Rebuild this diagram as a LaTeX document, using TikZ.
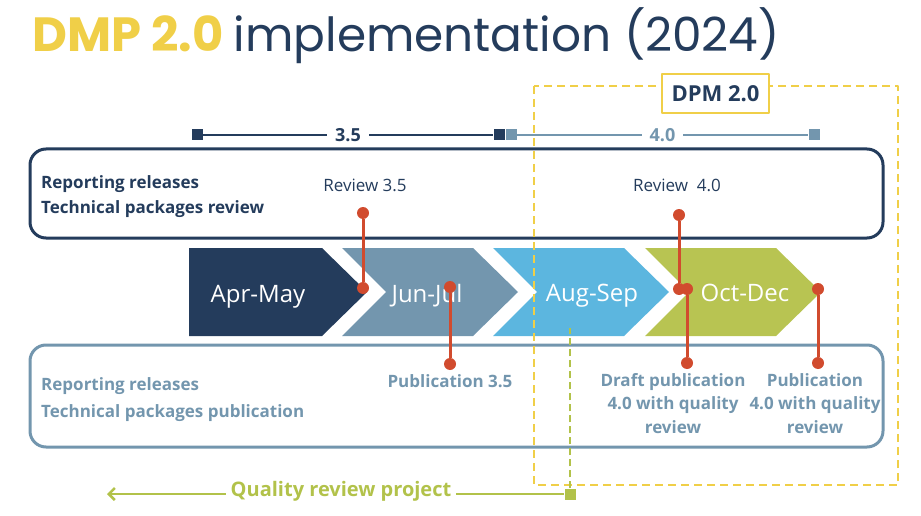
\documentclass[tikz,border=0pt]{standalone}
\usepackage{fontspec}
\setmainfont{Open Sans}
\newfontfamily\popfont{Poppins}
\usetikzlibrary{positioning,arrows.meta}
\definecolor{navy}{HTML}{243C5C}
\definecolor{steel}{HTML}{7396AE}
\definecolor{sky}{HTML}{5CB6DF}
\definecolor{olive}{HTML}{B8C452}
\definecolor{dpmyellow}{HTML}{F0CF48}
\definecolor{dotred}{HTML}{D14B2E}
\definecolor{qgreen}{HTML}{B2C24A}
\tikzset{
  dot/.style={circle,fill=dotred,inner sep=0pt,minimum size=12pt},
  redline/.style={draw=dotred,line width=3pt},
  sq/.style={inner sep=0pt,minimum size=11pt},
  month/.style={text=white,inner sep=0pt,anchor=base,font=\fontsize{24}{26}\selectfont},
  rowtxt/.style={inner sep=0pt,anchor=base west,align=left,font=\fontsize{17}{25}\selectfont\bfseries},
  revtxt/.style={inner sep=0pt,anchor=base,text=navy,font=\fontsize{17}{20}\selectfont},
  pubtxt/.style={inner sep=0pt,align=center,text=steel,font=\fontsize{17}{23.5}\selectfont\bfseries},
}
\begin{document}
\begin{tikzpicture}[x=1pt,y=-1pt,line join=round]
  \def\yt{248} \def\yb{336} \def\ym{292}
  \useasboundingbox (0,0) rectangle (921,516);
  % title
  \node[anchor=base west,inner sep=0pt] (title) at (32,52)
    {\popfont\bfseries\fontsize{48}{50}\selectfont\color{dpmyellow}DMP 2.0
     \mdseries\fontsize{47}{50}\selectfont\color{navy}implementation (2024)};
  % frames
  \draw[navy,line width=3pt,rounded corners=16pt] (30,149) rectangle (883,238);
  \draw[steel,line width=3pt,rounded corners=16pt] (30,345) rectangle (883,447);
  \node[rowtxt,text=navy] (revrow) at (41,213) {Reporting releases\\Technical packages review};
  \node[rowtxt,text=steel,font=\fontsize{17}{27}\selectfont\bfseries] (pubrow) at (41,417)
    {Reporting releases\\Technical packages publication};
  % chevrons
  \fill[navy] (189,\yt) -- (322,\yt) -- (367,\ym) -- (322,\yb) -- (189,\yb) -- cycle;
  \foreach \x/\c in {342/steel,493/sky,645/olive}
    \fill[\c] (\x,\yt) -- (\x+131,\yt) -- (\x+176,\ym) -- (\x+131,\yb) -- (\x,\yb) -- (\x+44,\ym) -- cycle;
  \node[month] (aprmay) at (258,302) {Apr-May};
  \node[month] (junjul) at (427,302) {Jun-Jul};
  \node[month] (augsep) at (592,301) {Aug-Sep};
  \node[month] (octdec) at (745,301) {Oct-Dec};
  % version timeline
  \node[sq,fill=navy] (v35a) at (197,135) {};
  \node[sq,fill=navy] (v35b) at (499,135) {};
  \node[sq,fill=steel] (v40a) at (511,135) {};
  \node[sq,fill=steel] (v40b) at (814,135) {};
  \draw[navy,line width=2pt] (v35a) -- node[fill=white,inner xsep=8pt,inner ysep=1pt,font=\fontsize{18}{20}\selectfont\bfseries]{3.5} (v35b);
  \draw[steel,line width=2pt] (v40a) -- node[fill=white,inner xsep=8pt,inner ysep=1pt,text=steel,font=\fontsize{18}{20}\selectfont\bfseries]{4.0} (v40b);
  % DPM 2.0 frame
  \draw[dpmyellow,line width=2.5pt,dash pattern=on 8pt off 5pt] (534,86) rectangle (898,485);
  \node[draw=dpmyellow,line width=2.5pt,fill=white,minimum width=107pt,minimum height=39pt,
    text=navy,font=\fontsize{22}{24}\selectfont\bfseries] (dpm) at (715.5,93.5) {DPM 2.0};
  % quality review project
  \node[sq,fill=qgreen] (qsq) at (570,494) {};
  \coordinate (qtop) at (570,328);
  \coordinate (qend) at (107,494);
  \draw[qgreen,line width=2.5pt,dash pattern=on 7pt off 4pt] (qsq) -- (qtop);
  \node[inner sep=5pt,anchor=mid,text=qgreen,font=\fontsize{20}{22}\selectfont\bfseries] (qrp) at (341,494) {Quality review project};
  \draw[qgreen,line width=2.5pt,-{Straight Barb[length=6pt,width=12pt]}] (qrp.mid west) -- (qend);
  \draw[qgreen,line width=2.5pt] (qrp.mid east) -- (qsq);
  % reviews and publications
  \node[revtxt] (rev35) at (365,191) {Review 3.5};
  \node[revtxt] (rev40) at (677,191) {Review\ \ 4.0};
  \node[dot] (r35a) at (363,213) {};
  \node[dot] (r35b) at (363,288) {};
  \node[dot] (p35a) at (450,287) {};
  \node[dot] (p35b) at (450,364) {};
  \node[dot] (r40a) at (679,215) {};
  \node[dot] (r40b) at (679,289) {};
  \node[dot] (d40a) at (687,289) {};
  \node[dot] (d40b) at (687,363) {};
  \node[dot] (p40a) at (818,289) {};
  \node[dot] (p40b) at (818,363) {};
  \foreach \a/\b in {r35a/r35b,p35a/p35b,r40a/r40b,d40a/d40b,p40a/p40b}
    \draw[redline] (\a) -- (\b);
  \node[pubtxt,below=4pt of p35b] (pub35) {Publication 3.5};
  \node[pubtxt,below=4pt of d40b,xshift=-14pt] (draft40) {Draft publication\\4.0 with quality\\review};
  \node[pubtxt,below=4pt of p40b,xshift=-3pt] (pub40) {Publication\\4.0 with quality\\review};
\end{tikzpicture}
\end{document}
